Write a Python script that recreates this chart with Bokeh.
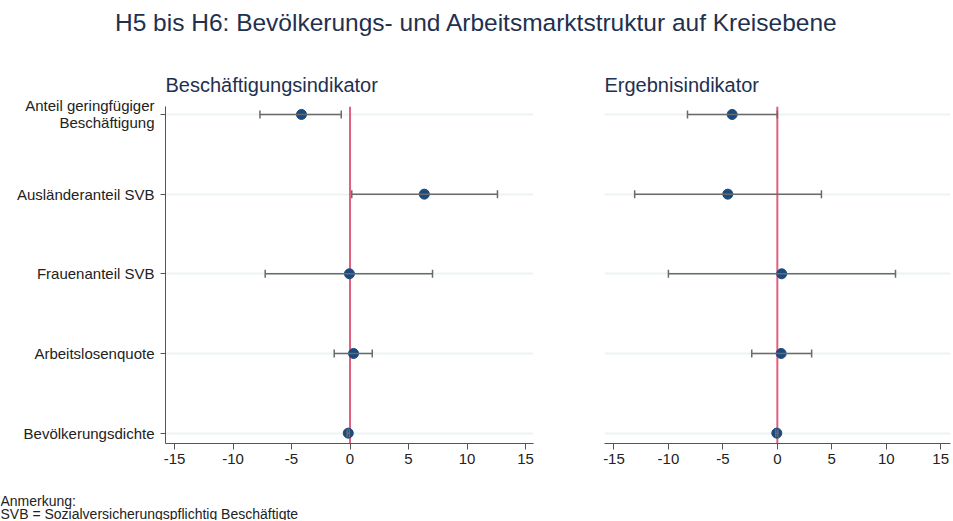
from bokeh.plotting import figure
from bokeh.models import (Range1d, FixedTicker, Span, Whisker, TeeHead,
                          ColumnDataSource)
from bokeh.layouts import column, row
from bokeh.embed import file_html
from bokeh.resources import INLINE
from bokeh.core.properties import value

# ---------------- data ----------------
main_title = "H5 bis H6: Bevölkerungs- und Arbeitsmarktstruktur auf Kreisebene"
panel_titles = ["Beschäftigungsindikator", "Ergebnisindikator"]
categories = ["Anteil geringfügiger\nBeschäftigung", "Ausländeranteil SVB",
              "Frauenanteil SVB", "Arbeitslosenquote", "Bevölkerungsdichte"]
cat_pos = [5, 4, 3, 2, 1]

besch_est = [-4.15, 6.35, -0.05, 0.3, -0.15]
besch_lo = [-7.7, 0.15, -7.25, -1.35, -0.25]
besch_hi = [-0.75, 12.6, 7.05, 1.9, -0.05]

erg_est = [-4.15, -4.55, 0.4, 0.35, -0.05]
erg_lo = [-8.25, -13.1, -10.0, -2.35, -0.15]
erg_hi = [0.0, 4.05, 10.85, 3.15, 0.05]

x_ticks = [-15, -10, -5, 0, 5, 10, 15]
x_tick_labels = ["-15", "-10", "-5", "0", "5", "10", "15"]
notes = ["Anmerkung:", "SVB = Sozialversicherungspflichtig Beschäftigte"]

FONT = "Liberation Sans"
NAVY = "#22304f"
DOT = "#1b4a7e"
WHISK = "#6a6a6a"
RED = "#e0607f"
GRID = "#edf3f3"

PANEL_H = 428


def make_panel(title, est, lo, hi, width, bl, br, xr, show_y):
    p = figure(width=width, height=PANEL_H, output_backend="svg",
               toolbar_location=None, x_range=Range1d(*xr),
               y_range=Range1d(0.87, 5.1),
               min_border_left=bl, min_border_right=br,
               min_border_top=56, min_border_bottom=35,
               title=title)
    p.outline_line_color = None
    p.background_fill_color = "white"
    p.border_fill_color = "white"
    p.title.text_font = FONT
    p.title.text_font_size = "20px"
    p.title.text_font_style = "normal"
    p.title.text_color = NAVY
    p.title.align = "left"
    p.title.standoff = 21

    p.xgrid.visible = False
    p.ygrid.ticker = FixedTicker(ticks=cat_pos)
    p.ygrid.grid_line_color = GRID
    p.ygrid.grid_line_width = 2

    xa = p.xaxis[0]
    xa.ticker = FixedTicker(ticks=x_ticks)
    xa.major_label_overrides = {t: l for t, l in zip(x_ticks, x_tick_labels)}
    xa.axis_line_color = "#555555"
    xa.major_tick_line_color = "#555555"
    xa.major_tick_out = 6
    xa.major_tick_in = 0
    xa.minor_tick_line_color = None
    xa.major_label_text_font = FONT
    xa.major_label_text_font_size = "15px"
    xa.major_label_text_color = "#222222"
    xa.major_label_standoff = 4

    ya = p.yaxis[0]
    if show_y:
        ya.ticker = FixedTicker(ticks=cat_pos)
        ya.major_label_overrides = {pp: c for pp, c in zip(cat_pos, categories)}
        ya.axis_line_color = "#555555"
        ya.major_tick_line_color = "#555555"
        ya.major_tick_out = 5
        ya.major_tick_in = 0
        ya.minor_tick_line_color = None
        ya.major_label_text_font = FONT
        ya.major_label_text_font_size = "15px"
        ya.major_label_text_color = "#222222"
        ya.major_label_text_line_height = 1.0
        ya.major_label_standoff = 6
    else:
        ya.visible = False

    span = Span(location=0, dimension="height", line_color=RED,
                line_width=2, level="underlay")
    p.add_layout(span)

    src = ColumnDataSource(dict(y=cat_pos, est=est, lo=lo, hi=hi))
    w = Whisker(source=src, base="y", lower="lo", upper="hi",
                dimension="width", line_color=WHISK, line_width=1.5,
                lower_head=TeeHead(size=8, line_color=WHISK, line_width=1.5),
                upper_head=TeeHead(size=8, line_color=WHISK, line_width=1.5),
                level="glyph")
    p.add_layout(w)
    p.scatter(x="est", y="y", source=src, size=10, fill_color=DOT,
              line_color=DOT)
    return p


p1 = make_panel(panel_titles[0], besch_est, besch_lo, besch_hi,
                width=570, bl=165, br=37, xr=(-15.77, 15.68), show_y=True)
p2 = make_panel(panel_titles[1], erg_est, erg_lo, erg_hi,
                width=382, bl=34, br=2, xr=(-15.87, 15.9), show_y=False)

TOTAL_W = 952

# title figure
TH = 50
tf = figure(width=TOTAL_W, height=TH, output_backend="svg",
            toolbar_location=None,
            x_range=Range1d(0, TOTAL_W), y_range=Range1d(0, TH),
            min_border=0)
tf.axis.visible = False
tf.grid.visible = False
tf.outline_line_color = None
tf.text(x=[476], y=[TH - 22], text=[main_title], text_align="center",
        text_baseline="middle", text_font=value(FONT),
        text_font_size="24.5px", text_color=NAVY)

# footnote figure
FH = 42
ff = figure(width=TOTAL_W, height=FH, output_backend="svg",
            toolbar_location=None,
            x_range=Range1d(0, TOTAL_W), y_range=Range1d(0, FH),
            min_border=0)
ff.axis.visible = False
ff.grid.visible = False
ff.outline_line_color = None
ff.text(x=[0, 0], y=[FH - 22, FH - 35], text=notes, text_align="left",
        text_baseline="middle", text_font=value(FONT),
        text_font_size="14px", text_color="#222222")

layout = column(tf, row(p1, p2, spacing=0), ff, spacing=0)

open("out.html", "w").write(file_html(layout, INLINE))
